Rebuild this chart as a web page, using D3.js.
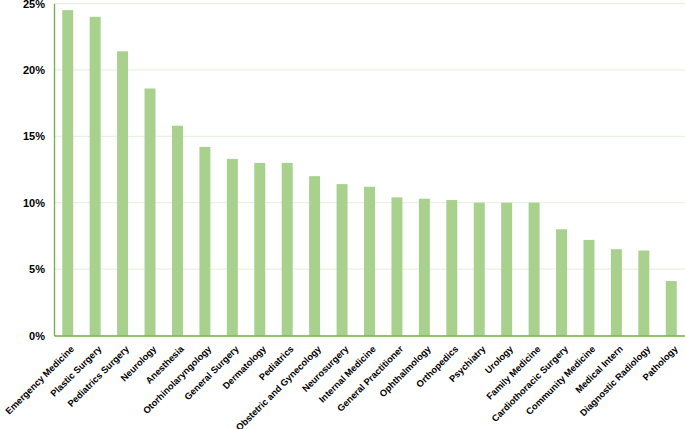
<!DOCTYPE html>
<html>
<head>
<meta charset="utf-8">
<script src="https://cdn.jsdelivr.net/npm/d3@7"></script>
<style>
body { margin: 0; background: #fff; }
text { font-family: "Liberation Sans", Arial, sans-serif; }
</style>
</head>
<body>
<div id="chart"></div>
<script>
// specialties, sorted as in the picture
var specialties = ["Emergency Medicine", "Plastic Surgery", "Pediatrics Surgery", "Neurology", "Anesthesia",
  "Otorhinolaryngology", "General Surgery", "Dermatology", "Pediatrics", "Obstetric and Gynecology",
  "Neurosurgery", "Internal Medicine", "General Practitioner", "Ophthalmology", "Orthopedics",
  "Psychiatry", "Urology", "Family Medicine", "Cardiothoracic Surgery", "Community Medicine",
  "Medical Intern", "Diagnostic Radiology", "Pathology"];
var percents = [24.5, 24.0, 21.4, 18.6, 15.8, 14.2, 13.3, 13.0, 13.0, 12.0,
  11.4, 11.2, 10.4, 10.3, 10.2, 10.0, 10.0, 10.0, 8.0, 7.2, 6.5, 6.4, 4.1];
var yTicks = [0, 5, 10, 15, 20, 25];

var width = 685, height = 429;
var plotLeft = 54, plotRight = 685, plotTop = 3.5, plotBottom = 335.5;

var svg = d3.select("#chart").append("svg")
  .attr("width", width)
  .attr("height", height);

var x = d3.scaleBand()
  .domain(specialties)
  .range([plotLeft, plotRight])
  .paddingInner(0.6)
  .paddingOuter(0.3);

var y = d3.scaleLinear()
  .domain([0, 25])
  .range([plotBottom, plotTop]);

// gridlines
svg.selectAll("line.grid")
  .data(yTicks.slice(1))
  .enter()
  .append("line")
  .attr("class", "grid")
  .attr("x1", plotLeft)
  .attr("x2", plotRight)
  .attr("y1", function (d) { return y(d); })
  .attr("y2", function (d) { return y(d); })
  .attr("stroke", "#e2efd9")
  .attr("stroke-width", 1);

// bars
svg.selectAll("rect.bar")
  .data(percents)
  .enter()
  .append("rect")
  .attr("class", "bar")
  .attr("x", function (d, i) { return x(specialties[i]); })
  .attr("y", function (d) { return y(d); })
  .attr("width", x.bandwidth())
  .attr("height", function (d) { return plotBottom - y(d); })
  .attr("fill", "#a9d18e");

// y axis
var yAxis = svg.append("g")
  .attr("transform", "translate(" + plotLeft + ",0)")
  .call(d3.axisLeft(y).tickValues(yTicks).tickSize(0).tickPadding(9)
    .tickFormat(function (d) { return d + "%"; }));
yAxis.select(".domain").attr("stroke", "#70ad47").attr("stroke-width", 1.3);
yAxis.selectAll("text")
  .attr("font-size", "11px")
  .attr("font-weight", "bold")
  .attr("fill", "#000");

// x axis
var xAxis = svg.append("g")
  .attr("transform", "translate(0," + plotBottom + ")")
  .call(d3.axisBottom(x).tickSize(0).tickPadding(0));
xAxis.select(".domain").attr("stroke", "#70ad47").attr("stroke-width", 1.3);
xAxis.selectAll("text")
  .attr("font-size", "9.3px")
  .attr("font-weight", "bold")
  .attr("fill", "#000")
  .attr("text-anchor", "end")
  .attr("dy", "0")
  .attr("y", 0)
  .attr("transform", "translate(7,14) rotate(-45)");
</script>
</body>
</html>
